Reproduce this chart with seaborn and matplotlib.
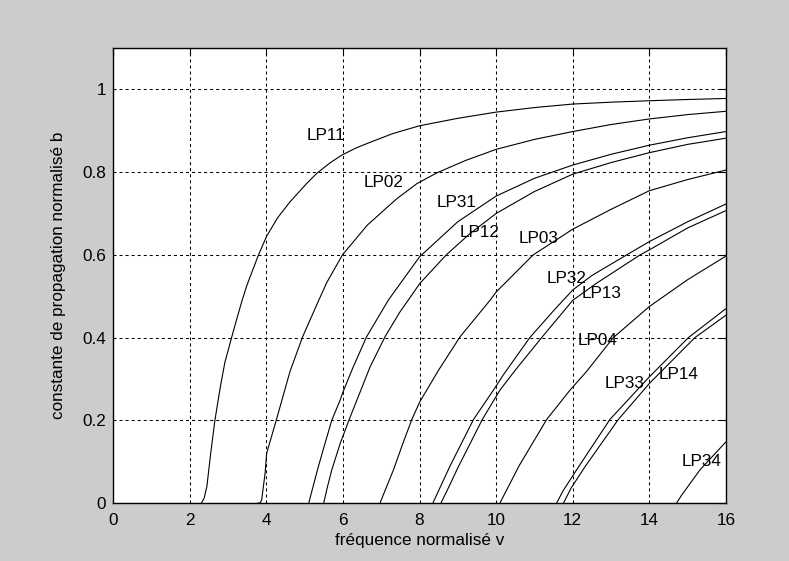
import matplotlib
matplotlib.use("Agg")
import matplotlib.pyplot as plt
import numpy as np
import pandas as pd
import seaborn as sns

# Normalised propagation constant b versus normalised frequency V for LP modes
modes = ["LP11", "LP02", "LP31", "LP12", "LP03", "LP32", "LP13", "LP04", "LP33", "LP14", "LP34"]

v_lp11 = [2.31, 2.38, 2.45, 2.55, 2.66, 2.80, 2.92, 3.14, 3.36, 3.49, 3.79, 4.01, 4.30, 4.62,
          5.06, 5.32, 5.66, 5.97, 6.36, 6.71, 7.30, 8.00, 9.00, 10.0, 11.0, 12.0, 13.0, 14.0, 15.0, 16.0]
b_lp11 = [0.0, 0.012, 0.04, 0.12, 0.20, 0.28, 0.34, 0.415, 0.487, 0.525, 0.598, 0.645, 0.690, 0.728,
          0.773, 0.797, 0.822, 0.841, 0.859, 0.872, 0.893, 0.912, 0.930, 0.945, 0.956, 0.9645, 0.969, 0.9725, 0.9755, 0.978]

v_lp02 = [3.78, 3.84, 3.88, 3.97, 4.01, 4.27, 4.62, 4.95, 5.36, 5.58, 5.99, 6.64, 7.40, 7.93, 8.45,
          9.20, 10.0, 11.0, 12.0, 13.0, 14.0, 15.0, 16.0]
b_lp02 = [0.0, 0.0, 0.007, 0.072, 0.12, 0.203, 0.318, 0.402, 0.488, 0.533, 0.600, 0.672, 0.735, 0.772, 0.798,
          0.828, 0.855, 0.879, 0.898, 0.915, 0.9285, 0.939, 0.947]

v_lp31 = [5.11, 5.18, 5.36, 5.49, 5.71, 5.93, 6.01, 6.27, 6.62, 7.19, 8.00, 9.00, 10.0,
          11.0, 12.0, 13.0, 14.0, 15.0, 16.0]
b_lp31 = [0.0, 0.025, 0.088, 0.13, 0.20, 0.249, 0.27, 0.329, 0.402, 0.491, 0.595, 0.68, 0.742,
          0.785, 0.817, 0.843, 0.865, 0.883, 0.898]

v_lp12 = [5.50, 5.60, 5.71, 5.93, 6.17, 6.71, 7.10, 7.49, 7.71, 8.01, 8.70, 9.30, 10.0,
          11.0, 12.0, 13.0, 14.0, 15.0, 16.0]
b_lp12 = [0.0, 0.04, 0.08, 0.144, 0.203, 0.329, 0.402, 0.462, 0.491, 0.531, 0.60, 0.65, 0.70,
          0.753, 0.795, 0.823, 0.847, 0.867, 0.882]

v_lp03 = [6.97, 7.10, 7.32, 7.55, 7.80, 8.01, 8.49, 9.06, 9.84, 10.0, 10.97, 12.0, 13.0, 14.0, 15.0, 16.0]
b_lp03 = [0.0, 0.03, 0.08, 0.14, 0.202, 0.245, 0.32, 0.402, 0.49, 0.51, 0.60, 0.662, 0.71, 0.755, 0.782, 0.805]

v_lp32 = [8.35, 8.50, 8.80, 9.41, 9.93, 10.19, 10.88, 11.5, 12.0, 12.5, 13.41, 14.0, 15.0, 16.0]
b_lp32 = [0.0, 0.03, 0.09, 0.202, 0.273, 0.31, 0.40, 0.465, 0.515, 0.55, 0.60, 0.632, 0.68, 0.723]

v_lp13 = [8.56, 8.72, 9.00, 9.64, 10.10, 10.49, 11.19, 12.0, 12.6, 13.76, 14.0, 15.0, 16.0]
b_lp13 = [0.0, 0.03, 0.085, 0.202, 0.273, 0.32, 0.40, 0.49, 0.53, 0.60, 0.612, 0.665, 0.707]

v_lp04 = [10.10, 10.60, 11.32, 11.93, 12.36, 13.06, 14.0, 15.0, 16.0]
b_lp04 = [0.0, 0.09, 0.202, 0.273, 0.318, 0.40, 0.475, 0.54, 0.597]

v_lp33 = [11.58, 11.75, 12.10, 12.97, 14.0, 15.02, 16.0]
b_lp33 = [0.0, 0.03, 0.08, 0.202, 0.305, 0.40, 0.47]

v_lp14 = [11.76, 11.95, 12.30, 13.19, 14.0, 15.19, 16.0]
b_lp14 = [0.0, 0.035, 0.085, 0.202, 0.289, 0.40, 0.454]

v_lp34 = [14.71, 14.85, 15.32, 16.0]
b_lp34 = [0.0, 0.02, 0.08, 0.148]

curves = {
    "LP11": (v_lp11, b_lp11), "LP02": (v_lp02, b_lp02), "LP31": (v_lp31, b_lp31),
    "LP12": (v_lp12, b_lp12), "LP03": (v_lp03, b_lp03), "LP32": (v_lp32, b_lp32),
    "LP13": (v_lp13, b_lp13), "LP04": (v_lp04, b_lp04), "LP33": (v_lp33, b_lp33),
    "LP14": (v_lp14, b_lp14), "LP34": (v_lp34, b_lp34),
}

# where each mode name is written (left edge, vertical centre)
label_at = {
    "LP11": (5.06, 0.893), "LP02": (6.53, 0.778), "LP31": (8.45, 0.731), "LP12": (9.06, 0.659),
    "LP03": (10.58, 0.643), "LP32": (11.32, 0.547), "LP13": (12.24, 0.511), "LP04": (12.14, 0.398),
    "LP33": (12.83, 0.293), "LP14": (14.23, 0.315), "LP34": (14.84, 0.104),
}

x_ticks = [0, 2, 4, 6, 8, 10, 12, 14, 16]
y_ticks = [0, 0.2, 0.4, 0.6, 0.8, 1.0]
y_tick_labels = ["0", "0.2", "0.4", "0.6", "0.8", "1"]

frames = [pd.DataFrame({"v": curves[m][0], "b": curves[m][1], "mode": m}) for m in modes]
df = pd.concat(frames, ignore_index=True)

sns.set_style("white")
plt.rcParams["font.family"] = ["Liberation Sans", "DejaVu Sans"]
fs = 12.3

fig = plt.figure(figsize=(7.89, 5.61), dpi=100, facecolor="#cccccc")
ax = fig.add_axes([113 / 789, 58 / 561, 613 / 789, 455 / 561])
ax.set_facecolor("white")

sns.lineplot(data=df, x="v", y="b", units="mode", estimator=None, sort=False,
             color="black", linewidth=0.8, ax=ax, zorder=3)

for m in modes:
    x, y = label_at[m]
    ax.text(x, y - 0.004, m, ha="left", va="center", fontsize=fs, color="black", zorder=4)

ax.set_xlim(0, 16)
ax.set_ylim(0, 1.1)
ax.set_xticks(x_ticks)
ax.set_xticklabels([str(t) for t in x_ticks])
ax.set_yticks(y_ticks)
ax.set_yticklabels(y_tick_labels)

ax.grid(True, color="black", linestyle=(0, (2.9, 2.9)), linewidth=0.75, zorder=1)
ax.set_axisbelow(True)

ax.tick_params(axis="both", direction="in", length=5, width=0.8, top=True, right=True,
               labelsize=fs, colors="black")
ax.tick_params(axis="x", pad=7)
ax.tick_params(axis="y", pad=5)

for s in ax.spines.values():
    s.set_color("black")
    s.set_linewidth(1.0)
    s.set_visible(True)

ax.set_xlabel("fréquence normalisé v", fontsize=fs, color="black")
ax.set_ylabel("constante de propagation normalisé b", fontsize=fs, color="black")
ax.xaxis.set_label_coords(0.5, -0.066)
ax.yaxis.set_label_coords(-0.077, 0.5)

fig.savefig("out.png", dpi=100, facecolor=fig.get_facecolor())
